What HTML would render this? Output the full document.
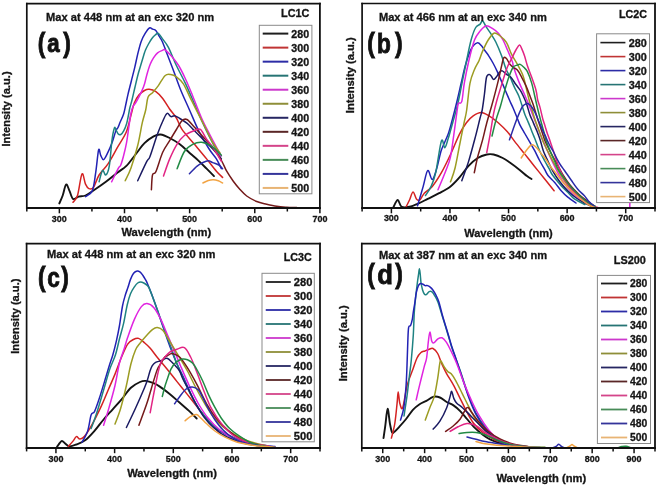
<!DOCTYPE html>
<html><head><meta charset="utf-8"><title>PL spectra</title>
<style>
html,body{margin:0;padding:0;background:#fff;width:660px;height:488px;overflow:hidden}
svg{display:block;will-change:transform}
text{font-family:'Liberation Sans',sans-serif;font-weight:bold;fill:#151515;stroke:#151515;stroke-width:0.3px}
text.big{stroke-width:0.9px;fill:#111;stroke:#111}
</style></head><body>
<svg width="660" height="488" viewBox="0 0 660 488">
<rect width="660" height="488" fill="#fff"/>
<g fill="none" stroke-width="1.5" stroke-linejoin="round" stroke-linecap="round"><path d="M59.3,203.4 C59.87,202.08 61.57,198.65 62.7,195.5 C63.83,192.35 64.97,185.27 66.1,184.5 C67.23,183.73 68.35,188.5 69.5,190.9 C70.65,193.3 71.48,197.95 73,198.9 C74.52,199.85 76.52,197.17 78.6,196.6 C80.68,196.03 82.85,196.63 85.5,195.5 C88.15,194.37 91.1,192.08 94.5,189.8 C97.9,187.52 102.1,184.65 105.9,181.8 C109.7,178.95 113.88,175.35 117.3,172.7 C120.72,170.05 123.37,168.93 126.4,165.9 C129.43,162.87 132.48,158.28 135.5,154.5 C138.52,150.72 141.48,146.22 144.5,143.2 C147.52,140.18 150.93,137.85 153.6,136.4 C156.27,134.95 157.82,134.23 160.5,134.5 C163.18,134.77 166.53,136.4 169.7,138 C172.87,139.6 176.22,141.65 179.5,144.1 C182.78,146.55 186.12,149.82 189.4,152.7 C192.68,155.58 196.33,158.73 199.2,161.4 C202.07,164.07 204.13,166.25 206.6,168.7 C209.07,171.15 212.77,174.87 214,176.1" stroke="#141414" stroke-width="1.9"/><path d="M73,202.3 C73.75,201.17 76,200.23 77.5,195.5 C79,190.77 80.67,175.8 82,173.9 C83.33,172 84.35,181.65 85.5,184.1 C86.65,186.55 87.58,188.03 88.9,188.6 C90.22,189.17 91.7,189.77 93.4,187.5 C95.1,185.23 96.63,178.98 99.1,175 C101.57,171.02 105.17,168.15 108.2,163.6 C111.23,159.05 114.27,153 117.3,147.7 C120.33,142.4 124.12,137.25 126.4,131.8 C128.68,126.35 129.68,119.8 131,115 C132.32,110.2 132.98,106.33 134.3,103 C135.62,99.67 137.2,97.08 138.9,95 C140.6,92.92 142.8,91.45 144.5,90.5 C146.2,89.55 147.2,89.12 149.1,89.3 C151,89.48 153.63,90.07 155.9,91.6 C158.17,93.13 160.42,95.6 162.7,98.5 C164.98,101.4 167.32,105.75 169.6,109 C171.88,112.25 174.33,114.6 176.4,118 C178.47,121.4 179.02,125.05 182,129.4 C184.98,133.75 190.2,139.18 194.3,144.1 C198.4,149.02 202.92,154.38 206.6,158.9 C210.28,163.42 213.73,168.12 216.4,171.2 C219.07,174.28 221.57,176.37 222.6,177.4" stroke="#d42222"/><path d="M85.5,196.6 C86.63,195.65 90.6,194.88 92.3,190.9 C94,186.92 94.65,179.52 95.7,172.7 C96.75,165.88 97.77,152.9 98.6,150 C99.43,147.1 99.87,153.7 100.7,155.3 C101.53,156.9 102.4,160.08 103.6,159.6 C104.8,159.12 106.47,155.28 107.9,152.4 C109.33,149.52 110.88,145.88 112.2,142.3 C113.52,138.72 114.83,133.37 115.8,130.9 C116.77,128.43 117.28,128.93 118,127.5 C118.72,126.07 119.15,124.6 120.1,122.3 C121.05,120 122.77,116.58 123.7,113.7 C124.63,110.82 124.97,108.3 125.7,105 C126.43,101.7 127.15,97.95 128.1,93.9 C129.05,89.85 130.3,85.08 131.4,80.7 C132.5,76.32 133.6,72.23 134.7,67.6 C135.8,62.97 136.92,57.27 138,52.9 C139.08,48.53 139.98,44.68 141.2,41.4 C142.42,38.12 143.93,35.43 145.3,33.2 C146.67,30.97 148.17,28.68 149.4,28 C150.63,27.32 151.6,28.65 152.7,29.1 C153.8,29.55 154.9,29.47 156,30.7 C157.1,31.93 158.22,34.62 159.3,36.5 C160.38,38.38 161.17,39 162.5,42 C163.83,45 165.37,49.45 167.3,54.5 C169.23,59.55 171.83,66.3 174.1,72.3 C176.37,78.3 178.35,84.27 180.9,90.5 C183.45,96.73 186.35,102.82 189.4,109.7 C192.45,116.58 195.92,125.25 199.2,131.8 C202.48,138.35 206.23,144.48 209.1,149 C211.97,153.52 214.35,155.62 216.4,158.9 C218.45,162.18 220.57,167.07 221.4,168.7" stroke="#2222b4"/><path d="M99.1,181.8 C99.67,179.92 101.37,171.63 102.5,170.5 C103.63,169.37 104.77,175.77 105.9,175 C107.03,174.23 108.28,171.73 109.3,165.9 C110.32,160.07 111.15,146.32 112,140 C112.85,133.68 113.77,129.77 114.4,128 C115.03,126.23 115.2,128.45 115.8,129.4 C116.4,130.35 117.17,132.85 118,133.7 C118.83,134.55 119.85,134.97 120.8,134.5 C121.75,134.03 122.73,132.7 123.7,130.9 C124.67,129.1 125.8,126.35 126.6,123.7 C127.4,121.05 127.97,117.62 128.5,115 C129.03,112.38 129.22,110.5 129.8,108 C130.38,105.5 131.15,103.42 132,100 C132.85,96.58 133.92,91.67 134.9,87.5 C135.88,83.33 136.92,78.75 137.9,75 C138.88,71.25 139.82,68.33 140.8,65 C141.78,61.67 143.02,57.5 143.8,55 C144.58,52.5 144.72,51.83 145.5,50 C146.28,48.17 147.43,45.92 148.5,44 C149.57,42.08 150.78,40 151.9,38.5 C153.02,37 154.12,35.85 155.2,35 C156.28,34.15 157.18,32.75 158.4,33.4 C159.62,34.05 160.83,36.58 162.5,38.9 C164.17,41.22 166.08,42.87 168.4,47.3 C170.72,51.73 173.55,59.45 176.4,65.5 C179.25,71.55 182.48,77.18 185.5,83.6 C188.52,90.02 191.85,97.93 194.5,104 C197.15,110.07 198.98,114.67 201.4,120 C203.82,125.33 206.57,131.17 209,136 C211.43,140.83 214,145.67 216,149 C218,152.33 220.17,154.83 221,156" stroke="#1e8282"/><path d="M111.6,181.8 C112.73,179.53 116.87,171 118.4,168.2 C119.93,165.4 119.92,167.15 120.8,165 C121.68,162.85 122.73,159.08 123.7,155.3 C124.67,151.52 125.77,146.85 126.6,142.3 C127.43,137.75 127.98,132.77 128.7,128 C129.42,123.23 130.18,117.28 130.9,113.7 C131.62,110.12 132.23,108.28 133,106.5 C133.77,104.72 134.53,104.57 135.5,103 C136.47,101.43 137.72,99.17 138.8,97.1 C139.88,95.03 141.05,92.78 142,90.6 C142.95,88.42 143.67,86.73 144.5,84 C145.33,81.27 146.05,77.48 147,74.2 C147.95,70.92 149.12,67.03 150.2,64.3 C151.28,61.57 152.27,59.7 153.5,57.8 C154.73,55.9 156.1,54.13 157.6,52.9 C159.1,51.67 161.27,50.92 162.5,50.4 C163.73,49.88 163.45,48.8 165,49.8 C166.55,50.8 169.53,53.78 171.8,56.4 C174.07,59.02 176.32,61.73 178.6,65.5 C180.88,69.27 183.22,74.08 185.5,79 C187.78,83.92 189.65,88.55 192.3,95 C194.95,101.45 198.45,111.03 201.4,117.7 C204.35,124.37 207.23,129.62 210,135 C212.77,140.38 216.17,146.5 218,150 C219.83,153.5 220.5,155 221,156" stroke="#e024e0"/><path d="M125.2,180.7 C126.15,178.62 128.82,174.07 130.9,168.2 C132.98,162.33 135.8,153.08 137.7,145.5 C139.6,137.92 140.97,128.62 142.3,122.7 C143.63,116.78 144.75,114.23 145.7,110 C146.65,105.77 146.87,100.18 148,97.3 C149.13,94.42 150.8,94.6 152.5,92.7 C154.2,90.8 156.12,88.73 158.2,85.9 C160.28,83.07 162.92,77.6 165,75.7 C167.08,73.8 168.8,74.32 170.7,74.5 C172.6,74.68 174.32,75.28 176.4,76.8 C178.48,78.32 180.93,80.18 183.2,83.6 C185.47,87.02 187.73,92.75 190,97.3 C192.27,101.85 194.3,105.95 196.8,110.9 C199.3,115.85 202.3,121.65 205,127 C207.7,132.35 210.5,138.67 213,143 C215.5,147.33 218.83,151.33 220,153" stroke="#9c9c22"/><path d="M137.7,180.7 C139.22,177.48 144.75,165.45 146.8,161.4 C148.85,157.35 148.23,160.92 150,156.4 C151.77,151.88 155.15,140.45 157.4,134.3 C159.65,128.15 161.87,122.98 163.5,119.5 C165.13,116.02 165.97,113.88 167.2,113.4 C168.43,112.92 169.67,116.2 170.9,116.6 C172.13,117 173.17,115.52 174.6,115.8 C176.03,116.08 177.45,117.07 179.5,118.3 C181.55,119.53 184.63,121.35 186.9,123.2 C189.17,125.05 191.05,127.35 193.1,129.4 C195.15,131.45 196.95,133.25 199.2,135.5 C201.45,137.75 204.13,140.43 206.6,142.9 C209.07,145.37 211.53,147.63 214,150.3 C216.47,152.97 220.17,157.47 221.4,158.9" stroke="#1a1a62"/><path d="M151.4,189.8 C151.58,187.33 151.75,178.03 152.5,175 C153.25,171.97 154.2,175.38 155.9,171.6 C157.6,167.82 160.43,157.42 162.7,152.3 C164.97,147.18 167.22,144.7 169.5,140.9 C171.78,137.1 174.32,132.85 176.4,129.5 C178.48,126.15 180.25,122.47 182,120.8 C183.75,119.13 184.85,118.48 186.9,119.5 C188.95,120.52 191.43,123.82 194.3,126.9 C197.17,129.98 200.82,134.32 204.1,138 C207.38,141.68 211.07,145.17 214,149 C216.93,152.83 219.58,157.3 221.7,161 C223.82,164.7 224.77,167.83 226.7,171.2 C228.63,174.57 231.08,178.15 233.3,181.2 C235.52,184.25 237.77,187.03 240,189.5 C242.23,191.97 243.92,194 246.7,196 C249.48,198 253.37,200.13 256.7,201.5 C260.03,202.87 263.37,203.4 266.7,204.2 C270.03,205 273.37,205.8 276.7,206.3 C280.03,206.8 283.37,206.98 286.7,207.2 C290.03,207.42 295.03,207.53 296.7,207.6" stroke="#741a1a"/><path d="M163.5,176.1 C164.53,173.23 167.43,164.23 169.7,158.9 C171.97,153.57 174.65,148 177.1,144.1 C179.55,140.2 181.53,137.75 184.4,135.5 C187.27,133.25 191.63,131.62 194.3,130.6 C196.97,129.58 198.35,127.97 200.4,129.4 C202.45,130.83 204.33,135.93 206.6,139.2 C208.87,142.47 211.53,145.3 214,149 C216.47,152.7 220.17,159.33 221.4,161.4" stroke="#e22484"/><path d="M177.1,168.7 C178.32,165.83 181.73,155.6 184.4,151.5 C187.07,147.4 190.22,145.65 193.1,144.1 C195.98,142.55 198.83,141.98 201.7,142.2 C204.57,142.42 207.63,143.85 210.3,145.4 C212.97,146.95 215.85,149.87 217.7,151.5 C219.55,153.13 220.78,154.58 221.4,155.2" stroke="#228a44"/><path d="M189.4,173.7 C190.63,172.47 194.53,168.17 196.8,166.3 C199.07,164.43 201.08,163.42 203,162.5 C204.92,161.58 206.68,160.78 208.3,160.8 C209.92,160.82 210.93,161.9 212.7,162.6 C214.47,163.3 217.25,163.98 218.9,165 C220.55,166.02 221.98,168.08 222.6,168.7" stroke="#2a2aa8"/><path d="M202.9,183 C203.8,182.58 206.57,181.05 208.3,180.5 C210.03,179.95 211.63,179.65 213.3,179.7 C214.97,179.75 216.75,180.25 218.3,180.8 C219.85,181.35 221.88,182.63 222.6,183" stroke="#f2a444"/></g>
<rect x="259.3" y="25.3" width="52.6" height="168.5" fill="#fff" stroke="#8a8a8a" stroke-width="1"/><line x1="262.7" y1="33.6" x2="288.3" y2="33.6" stroke="#1e1e1e" stroke-width="2.0"/><text x="291.3" y="37.5" font-size="10.5" textLength="17.8" lengthAdjust="spacingAndGlyphs">280</text><line x1="262.7" y1="47.63" x2="288.3" y2="47.63" stroke="#c03434" stroke-width="2.0"/><text x="291.3" y="51.53" font-size="10.5" textLength="17.8" lengthAdjust="spacingAndGlyphs">300</text><line x1="262.7" y1="61.66" x2="288.3" y2="61.66" stroke="#2c2ca6" stroke-width="2.0"/><text x="291.3" y="65.56" font-size="10.5" textLength="17.8" lengthAdjust="spacingAndGlyphs">320</text><line x1="262.7" y1="75.69" x2="288.3" y2="75.69" stroke="#267474" stroke-width="2.0"/><text x="291.3" y="79.59" font-size="10.5" textLength="17.8" lengthAdjust="spacingAndGlyphs">340</text><line x1="262.7" y1="89.72" x2="288.3" y2="89.72" stroke="#cc38cc" stroke-width="2.0"/><text x="291.3" y="93.62" font-size="10.5" textLength="17.8" lengthAdjust="spacingAndGlyphs">360</text><line x1="262.7" y1="103.75" x2="288.3" y2="103.75" stroke="#8e8e38" stroke-width="2.0"/><text x="291.3" y="107.65" font-size="10.5" textLength="17.8" lengthAdjust="spacingAndGlyphs">380</text><line x1="262.7" y1="117.78" x2="288.3" y2="117.78" stroke="#262662" stroke-width="2.0"/><text x="291.3" y="121.68" font-size="10.5" textLength="17.8" lengthAdjust="spacingAndGlyphs">400</text><line x1="262.7" y1="131.81" x2="288.3" y2="131.81" stroke="#5a2626" stroke-width="2.0"/><text x="291.3" y="135.71" font-size="10.5" textLength="17.8" lengthAdjust="spacingAndGlyphs">420</text><line x1="262.7" y1="145.84" x2="288.3" y2="145.84" stroke="#d4448a" stroke-width="2.0"/><text x="291.3" y="149.74" font-size="10.5" textLength="17.8" lengthAdjust="spacingAndGlyphs">440</text><line x1="262.7" y1="159.87" x2="288.3" y2="159.87" stroke="#488c58" stroke-width="2.0"/><text x="291.3" y="163.77" font-size="10.5" textLength="17.8" lengthAdjust="spacingAndGlyphs">460</text><line x1="262.7" y1="173.9" x2="288.3" y2="173.9" stroke="#34349a" stroke-width="2.0"/><text x="291.3" y="177.8" font-size="10.5" textLength="17.8" lengthAdjust="spacingAndGlyphs">480</text><line x1="262.7" y1="187.93" x2="288.3" y2="187.93" stroke="#e8b474" stroke-width="2.0"/><text x="291.3" y="191.83" font-size="10.5" textLength="17.8" lengthAdjust="spacingAndGlyphs">500</text>
<line x1="26.8" y1="2.8" x2="26.8" y2="209.1" stroke="#111" stroke-width="1.7"/><line x1="26" y1="3.6" x2="320.8" y2="3.6" stroke="#111" stroke-width="1.6"/><line x1="319.9" y1="2.8" x2="319.9" y2="209.1" stroke="#111" stroke-width="1.8"/><line x1="26" y1="208.1" x2="320.8" y2="208.1" stroke="#111" stroke-width="2"/><line x1="26.8" y1="208.1" x2="26.8" y2="211.5" stroke="#111" stroke-width="1.5"/><line x1="59.37" y1="208.1" x2="59.37" y2="213.3" stroke="#111" stroke-width="1.5"/><text x="59.37" y="221.9" font-size="9.4" text-anchor="middle" textLength="15.0" lengthAdjust="spacingAndGlyphs">300</text><line x1="91.93" y1="208.1" x2="91.93" y2="211.5" stroke="#111" stroke-width="1.5"/><line x1="124.5" y1="208.1" x2="124.5" y2="213.3" stroke="#111" stroke-width="1.5"/><text x="124.5" y="221.9" font-size="9.4" text-anchor="middle" textLength="15.0" lengthAdjust="spacingAndGlyphs">400</text><line x1="157.07" y1="208.1" x2="157.07" y2="211.5" stroke="#111" stroke-width="1.5"/><line x1="189.63" y1="208.1" x2="189.63" y2="213.3" stroke="#111" stroke-width="1.5"/><text x="189.63" y="221.9" font-size="9.4" text-anchor="middle" textLength="15.0" lengthAdjust="spacingAndGlyphs">500</text><line x1="222.2" y1="208.1" x2="222.2" y2="211.5" stroke="#111" stroke-width="1.5"/><line x1="254.77" y1="208.1" x2="254.77" y2="213.3" stroke="#111" stroke-width="1.5"/><text x="254.77" y="221.9" font-size="9.4" text-anchor="middle" textLength="15.0" lengthAdjust="spacingAndGlyphs">600</text><line x1="287.33" y1="208.1" x2="287.33" y2="211.5" stroke="#111" stroke-width="1.5"/><line x1="319.9" y1="208.1" x2="319.9" y2="213.3" stroke="#111" stroke-width="1.5"/><text x="319.9" y="221.9" font-size="9.4" text-anchor="middle" textLength="15.0" lengthAdjust="spacingAndGlyphs">700</text>
<text x="46.1" y="20.7" font-size="11" textLength="168" lengthAdjust="spacingAndGlyphs">Max at 448 nm at an exc 320 nm</text><text transform="translate(37.86,52.18) scale(0.81,1)" font-size="28.11" class="big">(</text><text transform="translate(63.18,52.18) scale(0.81,1)" font-size="28.11" class="big">)</text><text transform="translate(47.16,52.3) scale(0.88,1)" font-size="25.28" class="big">a</text><text x="281" y="17.2" font-size="10.5" textLength="28.4" lengthAdjust="spacingAndGlyphs">LC1C</text><text x="121.4" y="236.3" font-size="11" textLength="89.8" lengthAdjust="spacingAndGlyphs">Wavelength (nm)</text><text transform="translate(9.7,109) rotate(-90)" x="0" y="0" font-size="10.8" text-anchor="middle" textLength="75.2" lengthAdjust="spacingAndGlyphs">Intensity (a.u.)</text>
<g fill="none" stroke-width="1.5" stroke-linejoin="round" stroke-linecap="round"><path d="M393.6,206.8 C394.28,205.67 396.37,200 397.7,200 C399.03,200 399.63,205.67 401.6,206.8 C403.57,207.93 406.67,207.37 409.5,206.8 C412.33,206.23 415.57,204.72 418.6,203.4 C421.63,202.08 424.28,200.6 427.7,198.9 C431.12,197.2 435.3,195.28 439.1,193.2 C442.9,191.12 447.1,189.05 450.5,186.4 C453.9,183.75 456.48,180.72 459.5,177.3 C462.52,173.88 465.57,169.12 468.6,165.9 C471.63,162.68 474.67,159.9 477.7,158 C480.73,156.1 484.15,155.08 486.8,154.5 C489.45,153.92 490.95,153.92 493.6,154.5 C496.25,155.08 500,156.67 502.7,158 C505.4,159.33 506.97,160.52 509.8,162.5 C512.63,164.48 516.83,167.63 519.7,169.9 C522.57,172.17 525.03,174.58 527,176.1 C528.97,177.62 530.75,178.52 531.5,179" stroke="#141414" stroke-width="1.9"/><path d="M406.1,206.8 C406.67,205.67 408.35,202.47 409.5,200 C410.65,197.53 411.85,192.18 413,192 C414.15,191.82 415.27,197.57 416.4,198.9 C417.53,200.23 418.48,200.95 419.8,200 C421.12,199.05 422.22,195.47 424.3,193.2 C426.38,190.93 429.45,189.82 432.3,186.4 C435.15,182.98 438.37,178.02 441.4,172.7 C444.43,167.38 447.48,160.93 450.5,154.5 C453.52,148.07 456.85,139.4 459.5,134.1 C462.15,128.8 464.12,125.73 466.4,122.7 C468.68,119.67 470.75,117.6 473.2,115.9 C475.65,114.2 478.45,112.5 481.1,112.5 C483.75,112.5 486.25,114.2 489.1,115.9 C491.95,117.6 495.15,120.05 498.2,122.7 C501.25,125.35 504.63,128.65 507.4,131.8 C510.17,134.95 511.93,137.92 514.8,141.6 C517.67,145.28 521.33,149.8 524.6,153.9 C527.87,158 531.12,162.1 534.4,166.2 C537.68,170.3 541.02,174.4 544.3,178.5 C547.58,182.6 552.47,188.75 554.1,190.8" stroke="#d42222"/><path d="M417.5,205.7 C418.45,202.48 421.5,192.27 423.2,186.4 C424.9,180.53 426.18,171.65 427.7,170.5 C429.22,169.35 430.78,179.88 432.3,179.5 C433.82,179.12 435.28,173.12 436.8,168.2 C438.32,163.28 439.5,155.68 441.4,150 C443.3,144.32 446.32,139.4 448.2,134.1 C450.08,128.8 451.18,123.88 452.7,118.2 C454.22,112.52 455.88,105.87 457.3,100 C458.72,94.13 459.83,88.83 461.2,83 C462.57,77.17 463.85,70.65 465.5,65 C467.15,59.35 469.15,52.78 471.1,49.1 C473.05,45.42 475.47,43.47 477.2,42.9 C478.93,42.33 480.3,44.52 481.5,45.7 C482.7,46.88 483.2,48.32 484.4,50 C485.6,51.68 487.27,53.63 488.7,55.8 C490.13,57.97 491.57,60.37 493,63 C494.43,65.63 495.87,68.5 497.3,71.6 C498.73,74.7 500.17,78.25 501.6,81.6 C503.03,84.95 504.47,88.35 505.9,91.7 C507.33,95.05 509,98.98 510.2,101.7 C511.4,104.42 511.88,105.17 513.1,108 C514.32,110.83 516.37,115.9 517.5,118.7 C518.63,121.5 518.68,122.33 519.9,124.8 C521.12,127.27 523.15,130.62 524.8,133.5 C526.45,136.38 528.15,139.23 529.8,142.1 C531.45,144.97 533.07,147.63 534.7,150.7 C536.33,153.77 537.97,157.43 539.6,160.5 C541.23,163.57 543.1,166.6 544.5,169.1 C545.9,171.6 546.3,173.27 548,175.5 C549.7,177.73 552.5,179.97 554.7,182.5 C556.9,185.03 559.02,188.25 561.2,190.7 C563.38,193.15 565.33,195.15 567.8,197.2 C570.27,199.25 574.63,202.03 576,203" stroke="#2222b4"/><path d="M425.5,195.5 C426.43,193.98 429.4,190.2 431.1,186.4 C432.8,182.6 433.98,180.28 435.7,172.7 C437.42,165.12 439.88,145.07 441.4,140.9 C442.92,136.73 443.67,148.08 444.8,147.7 C445.93,147.32 446.88,142.77 448.2,138.6 C449.52,134.43 451.15,128.3 452.7,122.7 C454.25,117.1 455.95,111.58 457.5,105 C459.05,98.42 460.48,90.62 462,83.2 C463.52,75.78 465.08,67.7 466.6,60.5 C468.12,53.3 469.58,45.5 471.1,40 C472.62,34.5 474.18,30.15 475.7,27.5 C477.22,24.85 479.07,25.23 480.2,24.1 C481.33,22.97 481.55,20.32 482.5,20.7 C483.45,21.08 484.57,24.32 485.9,26.4 C487.23,28.48 488.85,30.6 490.5,33.2 C492.15,35.8 493.95,38.23 495.8,42 C497.65,45.77 499.92,51.35 501.6,55.8 C503.28,60.25 504.47,65.12 505.9,68.7 C507.33,72.28 508.77,74.18 510.2,77.3 C511.63,80.42 513.07,84.28 514.5,87.4 C515.93,90.52 517.6,93.13 518.8,96 C520,98.87 520.67,101.47 521.7,104.6 C522.73,107.73 524.03,112.15 525,114.8 C525.97,117.45 526.68,118.6 527.5,120.5 C528.32,122.4 529.08,124.15 529.9,126.2 C530.72,128.25 531.58,130.75 532.4,132.8 C533.22,134.85 533.6,135.52 534.8,138.5 C536,141.48 537.98,147.03 539.6,150.7 C541.22,154.37 542.87,157.43 544.5,160.5 C546.13,163.57 548.07,166.68 549.4,169.1 C550.73,171.52 550.53,172.23 552.5,175 C554.47,177.77 558.65,182.82 561.2,185.7 C563.75,188.58 565.62,190.1 567.8,192.3 C569.98,194.5 571.43,196.87 574.3,198.9 C577.17,200.93 583.22,203.57 585,204.5" stroke="#1e8282"/><path d="M438,189.8 C439.32,186.58 443.82,176 445.9,170.5 C447.98,165 449.17,162.87 450.5,156.8 C451.83,150.73 452.77,142.05 453.9,134.1 C455.03,126.15 456.55,114.22 457.3,109.1 C458.05,103.98 457.65,104.68 458.4,103.4 C459.15,102.12 460.82,104.77 461.8,101.4 C462.78,98.03 463.12,90.02 464.3,83.2 C465.48,76.38 467.2,67.7 468.9,60.5 C470.6,53.3 472.62,44.93 474.5,40 C476.38,35.07 478.3,33.25 480.2,30.9 C482.1,28.55 483.82,26.28 485.9,25.9 C487.98,25.52 490.62,27.38 492.7,28.6 C494.78,29.82 496.68,31.3 498.4,33.2 C500.12,35.1 501.48,37.2 503,40 C504.52,42.8 505.92,46.33 507.5,50 C509.08,53.67 511.5,59.15 512.5,62 C513.5,64.85 512.45,63.83 513.5,67.1 C514.55,70.37 516.97,77.03 518.8,81.6 C520.63,86.17 522.83,90.67 524.5,94.5 C526.17,98.33 527.55,101.52 528.8,104.6 C530.05,107.68 530.88,110.1 532,113 C533.12,115.9 534.33,119 535.5,122 C536.67,125 537.75,127.83 539,131 C540.25,134.17 541.58,137.67 543,141 C544.42,144.33 545.92,147.5 547.5,151 C549.08,154.5 550.75,158.33 552.5,162 C554.25,165.67 556.08,169.5 558,173 C559.92,176.5 561.83,179.92 564,183 C566.17,186.08 568.5,188.92 571,191.5 C573.5,194.08 576.27,196.5 579,198.5 C581.73,200.5 584.9,202.08 587.4,203.5 C589.9,204.92 592.9,206.42 594,207" stroke="#e024e0"/><path d="M450.5,181.8 C451.25,179.53 453.5,174.25 455,168.2 C456.5,162.15 457.98,153.08 459.5,145.5 C461.02,137.92 462.92,128.53 464.1,122.7 C465.28,116.87 465.62,117.08 466.6,110.5 C467.58,103.92 468.68,90.03 470,83.2 C471.32,76.37 472.98,73.28 474.5,69.5 C476.02,65.72 477.77,63.52 479.1,60.5 C480.43,57.48 480.98,54.82 482.5,51.4 C484.02,47.98 486.3,43.03 488.2,40 C490.1,36.97 492.02,33.95 493.9,33.2 C495.78,32.45 497.42,33.98 499.5,35.5 C501.58,37.02 504.38,39.15 506.4,42.3 C508.42,45.45 509.77,50.72 511.6,54.4 C513.43,58.08 515.48,60.82 517.4,64.4 C519.32,67.98 521.58,71.8 523.1,75.9 C524.62,80 525.5,84.98 526.5,89 C527.5,93.02 528.25,96.8 529.1,100 C529.95,103.2 530.78,105.47 531.6,108.2 C532.42,110.93 533.18,113.8 534,116.4 C534.82,119 535.68,121.48 536.5,123.8 C537.32,126.12 538.08,128.12 538.9,130.3 C539.72,132.48 540.55,134.7 541.4,136.9 C542.25,139.1 542.67,140.58 544,143.5 C545.33,146.42 547.57,150.82 549.4,154.4 C551.23,157.98 552.9,161.23 555,165 C557.1,168.77 559.5,173.17 562,177 C564.5,180.83 567.17,184.75 570,188 C572.83,191.25 576,194.08 579,196.5 C582,198.92 585.4,200.83 588,202.5 C590.6,204.17 593.5,205.83 594.6,206.5" stroke="#9c9c22"/><path d="M461.8,180.7 C462.93,177.48 466.32,168.78 468.6,161.4 C470.88,154.02 473.6,143.6 475.5,136.4 C477.4,129.2 478.88,122.6 480,118.2 C481.12,113.8 481.47,113.95 482.2,110 C482.93,106.05 483.68,99.95 484.4,94.5 C485.12,89.05 485.67,80.65 486.5,77.3 C487.33,73.95 488.57,74.52 489.4,74.4 C490.23,74.28 490.78,75.75 491.5,76.6 C492.22,77.45 492.85,79.5 493.7,79.5 C494.55,79.5 495.65,77.8 496.6,76.6 C497.55,75.4 498.45,73.25 499.4,72.3 C500.35,71.35 501.1,70.55 502.3,70.9 C503.5,71.25 505.17,73.33 506.6,74.4 C508.03,75.47 509.35,75.62 510.9,77.3 C512.45,78.98 514.35,82.35 515.9,84.5 C517.45,86.65 518.93,88.2 520.2,90.2 C521.47,92.2 522.43,94.2 523.5,96.5 C524.57,98.8 525.53,100.95 526.6,104 C527.67,107.05 528.93,112.05 529.9,114.8 C530.87,117.55 531.58,118.6 532.4,120.5 C533.22,122.4 533.98,124.28 534.8,126.2 C535.62,128.12 536.4,129.7 537.3,132 C538.2,134.3 539.2,136.88 540.2,140 C541.2,143.12 541.97,147.08 543.3,150.7 C544.63,154.32 546.57,158.22 548.2,161.7 C549.83,165.18 551.13,168.22 553.1,171.6 C555.07,174.98 557.52,178.77 560,182 C562.48,185.23 565.17,188.25 568,191 C570.83,193.75 573.87,196.33 577,198.5 C580.13,200.67 583.97,202.5 586.8,204 C589.63,205.5 592.8,206.92 594,207.5" stroke="#1a1a62"/><path d="M474.3,172.7 C474.87,170.05 476.37,162.1 477.7,156.8 C479.03,151.5 480.78,146.58 482.3,140.9 C483.82,135.22 485.28,128.38 486.8,122.7 C488.32,117.02 490.02,111.73 491.4,106.8 C492.78,101.87 493.88,97.77 495.1,93.1 C496.32,88.43 497.62,83.35 498.7,78.8 C499.78,74.25 500.77,69.28 501.6,65.8 C502.43,62.32 502.87,59.08 503.7,57.9 C504.53,56.72 505.63,57.73 506.6,58.7 C507.57,59.67 508.42,62.27 509.5,63.7 C510.58,65.13 511.78,66.23 513.1,67.3 C514.42,68.37 515.97,68.43 517.4,70.1 C518.83,71.77 520.27,74.67 521.7,77.3 C523.13,79.93 524.62,82.78 526,85.9 C527.38,89.02 528.83,92.98 530,96 C531.17,99.02 532.08,101.33 533,104 C533.92,106.67 534.67,109.33 535.5,112 C536.33,114.67 537.17,117.42 538,120 C538.83,122.58 539.67,125 540.5,127.5 C541.33,130 542.17,132.58 543,135 C543.83,137.42 544.17,139 545.5,142 C546.83,145 549.08,149.33 551,153 C552.92,156.67 555,160.33 557,164 C559,167.67 560.83,171.5 563,175 C565.17,178.5 567.33,181.75 570,185 C572.67,188.25 576,191.75 579,194.5 C582,197.25 585.3,199.5 588,201.5 C590.7,203.5 594,205.67 595.2,206.5" stroke="#741a1a"/><path d="M486.8,152.3 C487.37,149.27 489.07,140.55 490.2,134.1 C491.33,127.65 492.47,119.28 493.6,113.6 C494.73,107.92 495.93,103.93 497,100 C498.07,96.07 499,93.3 500,90 C501,86.7 501.78,83.98 503,80.2 C504.22,76.42 505.87,70.88 507.3,67.3 C508.73,63.72 510.17,61.58 511.6,58.7 C513.03,55.82 514.58,52.28 515.9,50 C517.22,47.72 518.53,45.23 519.5,45 C520.47,44.77 520.87,46.8 521.7,48.6 C522.53,50.4 523.55,52.93 524.5,55.8 C525.45,58.67 526.2,62.22 527.4,65.8 C528.6,69.38 530.27,73.23 531.7,77.3 C533.13,81.37 535,86.42 536,90.2 C537,93.98 537.07,97.27 537.7,100 C538.33,102.73 539.18,104.42 539.8,106.6 C540.42,108.78 540.87,110.92 541.4,113.1 C541.93,115.28 542.38,117.52 543,119.7 C543.62,121.88 544.42,124.02 545.1,126.2 C545.78,128.38 546.42,130.75 547.1,132.8 C547.78,134.85 548.48,136.47 549.2,138.5 C549.92,140.53 550.68,142.87 551.4,145 C552.12,147.13 552.68,148.8 553.5,151.3 C554.32,153.8 555.22,156.88 556.3,160 C557.38,163.12 558.55,166.67 560,170 C561.45,173.33 563.17,176.92 565,180 C566.83,183.08 568.83,185.92 571,188.5 C573.17,191.08 575.47,193.33 578,195.5 C580.53,197.67 583.83,199.83 586.2,201.5 C588.57,203.17 590.1,204.45 592.2,205.5 C594.3,206.55 597.7,207.42 598.8,207.8" stroke="#e22484"/><path d="M492,136 C492.67,133.33 494.58,125 496,120 C497.42,115 499.1,110.72 500.5,106 C501.9,101.28 503.02,96.48 504.4,91.7 C505.78,86.92 507.35,81.37 508.8,77.3 C510.25,73.23 511.67,69.33 513.1,67.3 C514.53,65.27 516.22,65.58 517.4,65.1 C518.58,64.62 519.13,64.03 520.2,64.4 C521.27,64.77 522.6,66.1 523.8,67.3 C525,68.5 526.08,68.97 527.4,71.6 C528.72,74.23 530.52,79.2 531.7,83.1 C532.88,87 533.65,91.35 534.5,95 C535.35,98.65 536.05,101.83 536.8,105 C537.55,108.17 538.23,111 539,114 C539.77,117 540.58,120 541.4,123 C542.22,126 543.15,129.17 543.9,132 C544.65,134.83 544.98,137.1 545.9,140 C546.82,142.9 547.98,145.98 549.4,149.4 C550.82,152.82 552.97,157.22 554.4,160.5 C555.83,163.78 556.4,166.18 558,169.1 C559.6,172.02 561.83,175.02 564,178 C566.17,180.98 568.33,184 571,187 C573.67,190 577.17,193.42 580,196 C582.83,198.58 585.47,200.75 588,202.5 C590.53,204.25 594,205.83 595.2,206.5" stroke="#228a44"/><path d="M509.5,139.8 C510.38,137.23 513.1,129.02 514.8,124.4 C516.5,119.78 518.42,115.08 519.7,112.1 C520.98,109.12 521.53,107.83 522.5,106.5 C523.47,105.17 524.58,104.6 525.5,104.1 C526.42,103.6 527.08,103.18 528,103.5 C528.92,103.82 530.08,104.97 531,106 C531.92,107.03 532.72,108.38 533.5,109.7 C534.28,111.02 534.93,112.23 535.7,113.9 C536.47,115.57 537.28,117.78 538.1,119.7 C538.92,121.62 539.78,123.5 540.6,125.4 C541.42,127.3 542.18,129.32 543,131.1 C543.82,132.88 544.82,134.62 545.5,136.1 C546.18,137.58 546.35,138.35 547.1,140 C547.85,141.65 549,144.17 550,146 C551,147.83 551.97,148.92 553.1,151 C554.23,153.08 555.57,156.17 556.8,158.5 C558.03,160.83 559.22,163 560.5,165 C561.78,167 562.73,168 564.5,170.5 C566.27,173 568.92,176.92 571.1,180 C573.28,183.08 575.42,186.4 577.6,189 C579.78,191.6 582.23,193.42 584.2,195.6 C586.17,197.78 587.75,200.33 589.44,202.1 C591.13,203.87 593.54,205.52 594.36,206.2" stroke="#2a2aa8"/><path d="M521.2,158 C522.02,156.78 524.47,152.85 526.1,150.7 C527.73,148.55 529.77,146.03 531,145.1 C532.23,144.17 532.48,144.58 533.5,145.1 C534.52,145.62 535.88,146.87 537.1,148.2 C538.32,149.53 539.35,151.25 540.8,153.1 C542.25,154.95 544.15,157.03 545.8,159.3 C547.45,161.57 549.07,164.45 550.7,166.7 C552.33,168.95 553.3,169.9 555.6,172.8 C557.9,175.7 561.65,180.85 564.5,184.1 C567.35,187.35 569.7,189.57 572.7,192.3 C575.7,195.03 579.71,198.32 582.5,200.5 C585.29,202.68 587.32,204.23 589.44,205.4 C591.56,206.57 594.24,207.15 595.2,207.5" stroke="#f2a444"/><path d="M629.8,203.3 L629.8,207.4" stroke="#e024e0"/></g>
<rect x="596.6" y="33.8" width="52.9" height="168.8" fill="#fff" stroke="#8a8a8a" stroke-width="1"/><line x1="600.4" y1="42.6" x2="625.4" y2="42.6" stroke="#1e1e1e" stroke-width="1.6"/><text x="628.8" y="46.5" font-size="10.5" textLength="18.1" lengthAdjust="spacingAndGlyphs">280</text><line x1="600.4" y1="56.6" x2="625.4" y2="56.6" stroke="#c03434" stroke-width="1.6"/><text x="628.8" y="60.5" font-size="10.5" textLength="18.1" lengthAdjust="spacingAndGlyphs">300</text><line x1="600.4" y1="70.6" x2="625.4" y2="70.6" stroke="#2c2ca6" stroke-width="1.6"/><text x="628.8" y="74.5" font-size="10.5" textLength="18.1" lengthAdjust="spacingAndGlyphs">320</text><line x1="600.4" y1="84.6" x2="625.4" y2="84.6" stroke="#267474" stroke-width="1.6"/><text x="628.8" y="88.5" font-size="10.5" textLength="18.1" lengthAdjust="spacingAndGlyphs">340</text><line x1="600.4" y1="98.6" x2="625.4" y2="98.6" stroke="#cc38cc" stroke-width="1.6"/><text x="628.8" y="102.5" font-size="10.5" textLength="18.1" lengthAdjust="spacingAndGlyphs">360</text><line x1="600.4" y1="112.6" x2="625.4" y2="112.6" stroke="#8e8e38" stroke-width="1.6"/><text x="628.8" y="116.5" font-size="10.5" textLength="18.1" lengthAdjust="spacingAndGlyphs">380</text><line x1="600.4" y1="126.6" x2="625.4" y2="126.6" stroke="#262662" stroke-width="1.6"/><text x="628.8" y="130.5" font-size="10.5" textLength="18.1" lengthAdjust="spacingAndGlyphs">400</text><line x1="600.4" y1="140.6" x2="625.4" y2="140.6" stroke="#5a2626" stroke-width="1.6"/><text x="628.8" y="144.5" font-size="10.5" textLength="18.1" lengthAdjust="spacingAndGlyphs">420</text><line x1="600.4" y1="154.6" x2="625.4" y2="154.6" stroke="#d4448a" stroke-width="1.6"/><text x="628.8" y="158.5" font-size="10.5" textLength="18.1" lengthAdjust="spacingAndGlyphs">440</text><line x1="600.4" y1="168.6" x2="625.4" y2="168.6" stroke="#488c58" stroke-width="1.6"/><text x="628.8" y="172.5" font-size="10.5" textLength="18.1" lengthAdjust="spacingAndGlyphs">460</text><line x1="600.4" y1="182.6" x2="625.4" y2="182.6" stroke="#34349a" stroke-width="1.6"/><text x="628.8" y="186.5" font-size="10.5" textLength="18.1" lengthAdjust="spacingAndGlyphs">480</text><line x1="600.4" y1="196.6" x2="625.4" y2="196.6" stroke="#e8b474" stroke-width="1.6"/><text x="628.8" y="200.5" font-size="10.5" textLength="18.1" lengthAdjust="spacingAndGlyphs">500</text>
<line x1="362.1" y1="2.7" x2="362.1" y2="209.1" stroke="#111" stroke-width="1.7"/><line x1="361.3" y1="3.5" x2="655.9" y2="3.5" stroke="#111" stroke-width="1.6"/><line x1="655" y1="2.7" x2="655" y2="209.1" stroke="#111" stroke-width="1.8"/><line x1="361.3" y1="208.1" x2="655.9" y2="208.1" stroke="#111" stroke-width="2"/><line x1="362.1" y1="208.1" x2="362.1" y2="211.5" stroke="#111" stroke-width="1.5"/><line x1="391.39" y1="208.1" x2="391.39" y2="213.3" stroke="#111" stroke-width="1.5"/><text x="391.39" y="221.4" font-size="9.4" text-anchor="middle" textLength="15.0" lengthAdjust="spacingAndGlyphs">300</text><line x1="420.68" y1="208.1" x2="420.68" y2="211.5" stroke="#111" stroke-width="1.5"/><line x1="449.97" y1="208.1" x2="449.97" y2="213.3" stroke="#111" stroke-width="1.5"/><text x="449.97" y="221.4" font-size="9.4" text-anchor="middle" textLength="15.0" lengthAdjust="spacingAndGlyphs">400</text><line x1="479.26" y1="208.1" x2="479.26" y2="211.5" stroke="#111" stroke-width="1.5"/><line x1="508.55" y1="208.1" x2="508.55" y2="213.3" stroke="#111" stroke-width="1.5"/><text x="508.55" y="221.4" font-size="9.4" text-anchor="middle" textLength="15.0" lengthAdjust="spacingAndGlyphs">500</text><line x1="537.84" y1="208.1" x2="537.84" y2="211.5" stroke="#111" stroke-width="1.5"/><line x1="567.13" y1="208.1" x2="567.13" y2="213.3" stroke="#111" stroke-width="1.5"/><text x="567.13" y="221.4" font-size="9.4" text-anchor="middle" textLength="15.0" lengthAdjust="spacingAndGlyphs">600</text><line x1="596.42" y1="208.1" x2="596.42" y2="211.5" stroke="#111" stroke-width="1.5"/><line x1="625.71" y1="208.1" x2="625.71" y2="213.3" stroke="#111" stroke-width="1.5"/><text x="625.71" y="221.4" font-size="9.4" text-anchor="middle" textLength="15.0" lengthAdjust="spacingAndGlyphs">700</text><line x1="655" y1="208.1" x2="655" y2="211.5" stroke="#111" stroke-width="1.5"/>
<text x="378.9" y="21.4" font-size="11" textLength="167.9" lengthAdjust="spacingAndGlyphs">Max at 466 nm at an exc 340 nm</text><text transform="translate(367.36,52.23) scale(0.82,1)" font-size="27.9" class="big">(</text><text transform="translate(394.98,52.23) scale(0.82,1)" font-size="27.9" class="big">)</text><text transform="translate(377.1,52.7) scale(0.82,1)" font-size="27.72" class="big">b</text><text x="619" y="17.5" font-size="10.5" textLength="28" lengthAdjust="spacingAndGlyphs">LC2C</text><text x="464.2" y="237.1" font-size="11" textLength="88.6" lengthAdjust="spacingAndGlyphs">Wavelength (nm)</text><text transform="translate(354.2,75.25) rotate(-90)" x="0" y="0" font-size="10.8" text-anchor="middle" textLength="75.9" lengthAdjust="spacingAndGlyphs">Intensity (a.u.)</text>
<g fill="none" stroke-width="1.5" stroke-linejoin="round" stroke-linecap="round"><path d="M57,446.8 C57.77,445.85 60.27,441.67 61.6,441.1 C62.93,440.53 63.68,442.52 65,443.4 C66.32,444.28 67.6,446.22 69.5,446.4 C71.4,446.58 73.73,445.57 76.4,444.5 C79.07,443.43 82.48,442.27 85.5,440 C88.52,437.73 91.48,434.32 94.5,430.9 C97.52,427.48 100.57,423.1 103.6,419.5 C106.63,415.9 109.67,412.7 112.7,409.3 C115.73,405.9 118.77,402.7 121.8,399.1 C124.83,395.5 127.87,390.55 130.9,387.7 C133.93,384.85 137.53,383.13 140,382 C142.47,380.87 143.43,380.7 145.7,380.9 C147.97,381.1 151.25,382.25 153.6,383.2 C155.95,384.15 157.12,384.82 159.8,386.6 C162.48,388.38 166.42,391.25 169.7,393.9 C172.98,396.55 176.23,399.63 179.5,402.5 C182.77,405.37 186.43,408.43 189.3,411.1 C192.17,413.77 195.47,417.27 196.7,418.5" stroke="#141414" stroke-width="1.9"/><path d="M68.4,446.4 C69.17,445.52 71.67,442.73 73,441.1 C74.33,439.47 75.27,436.97 76.4,436.6 C77.53,436.23 78.48,438.9 79.8,438.9 C81.12,438.9 82.22,439.07 84.3,436.6 C86.38,434.13 89.45,429.22 92.3,424.1 C95.15,418.98 98.75,411.58 101.4,405.9 C104.05,400.22 105.93,395.3 108.2,390 C110.47,384.7 112.73,379.68 115,374.1 C117.27,368.52 119.68,361.5 121.8,356.5 C123.92,351.5 125.77,346.93 127.7,344.1 C129.63,341.27 131.58,340.45 133.4,339.5 C135.22,338.55 136.7,337.82 138.6,338.4 C140.5,338.98 142.9,341.4 144.8,343 C146.7,344.6 147.9,345.58 150,348 C152.1,350.42 154.53,353.95 157.4,357.5 C160.27,361.05 163.93,365.28 167.2,369.3 C170.47,373.32 173.72,377.5 177,381.6 C180.28,385.7 183.62,389.8 186.9,393.9 C190.18,398 193.42,402.1 196.7,406.2 C199.98,410.3 203.32,414.6 206.6,418.5 C209.88,422.4 214.15,427.13 216.4,429.6 C218.65,432.07 219.48,432.68 220.1,433.3" stroke="#d42222"/><path d="M82,442.3 C82.95,440.4 86.18,435.45 87.7,430.9 C89.22,426.35 89.97,418.22 91.1,415 C92.23,411.78 93.17,414.25 94.5,411.6 C95.83,408.95 97.2,404.87 99.1,399.1 C101,393.33 104.17,382.68 105.9,377 C107.63,371.32 108.35,368.67 109.5,365 C110.65,361.33 111.65,359.02 112.8,355 C113.95,350.98 115.28,345.82 116.4,340.9 C117.52,335.98 118.48,331.32 119.5,325.5 C120.52,319.68 121.52,311.12 122.5,306 C123.48,300.88 124.5,297.87 125.4,294.8 C126.3,291.73 127.05,290.17 127.9,287.6 C128.75,285.03 129.55,281.78 130.5,279.4 C131.45,277.02 132.48,274.7 133.6,273.3 C134.72,271.9 136.1,271.18 137.2,271 C138.3,270.82 139.27,271.48 140.2,272.2 C141.13,272.92 141.95,274.1 142.8,275.3 C143.65,276.5 144.53,278.03 145.3,279.4 C146.07,280.77 146.35,281.05 147.4,283.5 C148.45,285.95 149.95,289.68 151.6,294.1 C153.25,298.52 155.18,303.93 157.3,310 C159.42,316.07 162.03,324 164.3,330.5 C166.57,337 168.78,343.42 170.9,349 C173.02,354.58 174.75,358.97 177,364 C179.25,369.03 181.52,372.98 184.4,379.2 C187.28,385.42 191.02,395.15 194.3,401.3 C197.58,407.45 200.42,411.58 204.1,416.1 C207.78,420.62 212.3,425.13 216.4,428.4 C220.5,431.67 224.43,433.6 228.7,435.7 C232.97,437.8 237.12,439.53 242,441 C246.88,442.47 252.5,443.58 258,444.5 C263.5,445.42 272.17,446.17 275,446.5" stroke="#2222b4"/><path d="M91.1,428.6 C92.05,425.95 94.72,419.13 96.8,412.7 C98.88,406.27 101.43,397.28 103.6,390 C105.77,382.72 107.83,374.83 109.8,369 C111.77,363.17 113.78,360.03 115.4,355 C117.02,349.97 118.13,344.07 119.5,338.8 C120.87,333.53 122.32,329.03 123.6,323.4 C124.88,317.77 126.05,309.93 127.2,305 C128.35,300.07 129.27,296.87 130.5,293.8 C131.73,290.73 133.4,288.4 134.6,286.6 C135.8,284.8 136.68,283.77 137.7,283 C138.72,282.23 139.68,282 140.7,282 C141.72,282 142.77,282.48 143.8,283 C144.83,283.52 146.05,284.33 146.9,285.1 C147.75,285.87 147.88,285.47 148.9,287.6 C149.92,289.73 151.63,294.32 153,297.9 C154.37,301.48 155.43,304.43 157.1,309.1 C158.77,313.77 160.88,320.07 163,325.9 C165.12,331.73 167.72,338.42 169.8,344.1 C171.88,349.78 173.3,354.35 175.5,360 C177.7,365.65 180.25,371.83 183,378 C185.75,384.17 188.83,391.17 192,397 C195.17,402.83 198.33,408.17 202,413 C205.67,417.83 209.67,422.33 214,426 C218.33,429.67 222.83,432.33 228,435 C233.17,437.67 238.83,440.17 245,442 C251.17,443.83 261.67,445.33 265,446" stroke="#1e8282"/><path d="M103.6,425.2 C104.37,422.75 106.3,417.12 108.2,410.5 C110.1,403.88 113.12,393.47 115,385.5 C116.88,377.53 117.98,368.77 119.5,362.7 C121.02,356.63 122.73,353.33 124.1,349.1 C125.47,344.87 125.97,342.3 127.7,337.3 C129.43,332.3 132.22,324.22 134.5,319.1 C136.78,313.98 139.32,309.18 141.4,306.6 C143.48,304.02 144.92,303.42 147,303.6 C149.08,303.78 151.62,305.12 153.9,307.7 C156.18,310.28 158.43,314.55 160.7,319.1 C162.97,323.65 165.23,329.7 167.5,335 C169.77,340.3 172.05,345.57 174.3,350.9 C176.55,356.23 178.55,361.32 181,367 C183.45,372.68 186.17,379 189,385 C191.83,391 194.83,397.5 198,403 C201.17,408.5 204.33,413.5 208,418 C211.67,422.5 215.5,426.5 220,430 C224.5,433.5 229.67,436.67 235,439 C240.33,441.33 246.17,442.75 252,444 C257.83,445.25 267,446.08 270,446.5" stroke="#e024e0"/><path d="M115,424.1 C115.95,421.45 118.8,414.63 120.7,408.2 C122.6,401.77 124.7,392.87 126.4,385.5 C128.1,378.13 129.38,369.92 130.9,364 C132.42,358.08 133.95,353.5 135.5,350 C137.05,346.5 138.28,345.5 140.2,343 C142.12,340.5 144.92,337.28 147,335 C149.08,332.72 150.98,330.55 152.7,329.3 C154.42,328.05 155.58,327.3 157.3,327.5 C159.02,327.7 161.12,328.5 163,330.5 C164.88,332.5 166.52,336.1 168.6,339.5 C170.68,342.9 173.42,347.48 175.5,350.9 C177.58,354.32 179.02,356.48 181.1,360 C183.18,363.52 185.52,367.33 188,372 C190.48,376.67 193.17,382.67 196,388 C198.83,393.33 201.67,398.67 205,404 C208.33,409.33 211.83,415.33 216,420 C220.17,424.67 224.67,428.5 230,432 C235.33,435.5 241.67,438.67 248,441 C254.33,443.33 264.67,445.17 268,446" stroke="#9c9c22"/><path d="M126.4,427.5 C127.92,424.28 132.48,414.83 135.5,408.2 C138.52,401.57 142.52,392.4 144.5,387.7 C146.48,383 146.48,382.78 147.4,380 C148.32,377.22 149.18,373.4 150,371 C150.82,368.6 151.37,367.05 152.3,365.6 C153.23,364.15 154.1,363.12 155.6,362.3 C157.1,361.48 159.53,361.38 161.3,360.7 C163.07,360.02 164.83,358.35 166.2,358.2 C167.57,358.05 168.13,358.7 169.5,359.8 C170.87,360.9 172.77,363.02 174.4,364.8 C176.03,366.58 177.8,367.97 179.3,370.5 C180.8,373.03 181.73,376.58 183.4,380 C185.07,383.42 187.2,387 189.3,391 C191.4,395 193.55,399.67 196,404 C198.45,408.33 201,413 204,417 C207,421 210.17,424.67 214,428 C217.83,431.33 222.17,434.5 227,437 C231.83,439.5 237.5,441.5 243,443 C248.5,444.5 257.17,445.5 260,446" stroke="#1a1a62"/><path d="M138.9,425.2 C140.22,421.6 144.35,410.98 146.8,403.6 C149.25,396.22 151.83,386.62 153.6,380.9 C155.37,375.18 156.25,372.12 157.4,369.3 C158.55,366.48 159.27,366.05 160.5,364 C161.73,361.95 163.67,358.35 164.8,357 C165.93,355.65 166.08,356.5 167.3,355.9 C168.52,355.3 170.07,353.22 172.1,353.4 C174.13,353.58 177.03,354.75 179.5,357 C181.97,359.25 184.03,362.38 186.9,366.9 C189.77,371.42 193.42,377.95 196.7,384.1 C199.98,390.25 203.32,398.07 206.6,403.8 C209.88,409.53 212.72,414 216.4,418.5 C220.08,423 224.2,427.12 228.7,430.8 C233.2,434.48 237.85,438.15 243.4,440.6 C248.95,443.05 258.9,444.68 262,445.5" stroke="#741a1a"/><path d="M150.2,412.7 C150.77,409.67 152.27,401.32 153.6,394.5 C154.93,387.68 156.95,377.22 158.2,371.8 C159.45,366.38 160.15,364.27 161.1,362 C162.05,359.73 162.47,359.85 163.9,358.2 C165.33,356.55 167.52,353.6 169.7,352.1 C171.88,350.6 174.55,349.93 177,349.2 C179.45,348.47 182.13,346.4 184.4,347.7 C186.67,349 188.55,352.98 190.6,357 C192.65,361.02 194.45,366.05 196.7,371.8 C198.95,377.55 201.63,385.35 204.1,391.5 C206.57,397.65 208.63,403.38 211.5,408.7 C214.37,414.02 217.62,418.9 221.3,423.4 C224.98,427.9 228.82,432.43 233.6,435.7 C238.38,438.97 244.27,441.28 250,443 C255.73,444.72 265,445.5 268,446" stroke="#e22484"/><path d="M162.3,396.4 C162.75,394.67 164.22,388.73 165,386 C165.78,383.27 165.98,382.85 167,380 C168.02,377.15 169.6,371.85 171.1,368.9 C172.6,365.95 174.08,363.95 176,362.3 C177.92,360.65 180.68,359.42 182.6,359 C184.52,358.58 185.85,359.12 187.5,359.8 C189.15,360.48 190.85,361.32 192.5,363.1 C194.15,364.88 195.72,367.55 197.4,370.5 C199.08,373.45 200.72,376.7 202.6,380.8 C204.48,384.9 206.65,390.67 208.7,395.1 C210.75,399.53 212.85,403.63 214.9,407.4 C216.95,411.17 218.62,414.27 221,417.7 C223.38,421.13 226.12,424.92 229.2,428 C232.28,431.08 236.08,433.82 239.5,436.2 C242.92,438.58 246.28,440.77 249.7,442.3 C253.12,443.83 256.28,444.62 260,445.4 C263.72,446.18 270,446.73 272,447" stroke="#228a44"/><path d="M174.6,403.8 C175.5,402.53 178.07,398.67 180,396.2 C181.93,393.73 184.15,390.55 186.2,389 C188.25,387.45 190.25,386.73 192.3,386.9 C194.35,387.07 196.78,388.28 198.5,390 C200.22,391.72 200.9,393.95 202.6,397.2 C204.3,400.45 206.65,405.75 208.7,409.5 C210.75,413.25 212.5,416.28 214.9,419.7 C217.3,423.12 220.03,426.92 223.1,430 C226.17,433.08 229.55,435.98 233.3,438.2 C237.05,440.42 241.15,442 245.6,443.3 C250.05,444.6 257.6,445.55 260,446" stroke="#2a2aa8"/><path d="M185.1,420.8 C185.97,420.12 188.42,417.73 190.3,416.7 C192.18,415.67 194.7,414.43 196.4,414.6 C198.1,414.77 198.78,416.17 200.5,417.7 C202.22,419.23 204.3,421.58 206.7,423.8 C209.1,426.02 211.83,428.77 214.9,431 C217.97,433.23 221.35,435.32 225.1,437.2 C228.85,439.08 233.3,441.03 237.4,442.3 C241.5,443.57 245.6,444.13 249.7,444.8 C253.8,445.47 257.78,445.9 262,446.3 C266.22,446.7 272.83,447.05 275,447.2" stroke="#f2a444"/></g>
<rect x="262" y="273.3" width="52.3" height="168.5" fill="#fff" stroke="#8a8a8a" stroke-width="1"/><line x1="265.75" y1="282" x2="290.75" y2="282" stroke="#1e1e1e" stroke-width="1.8"/><text x="293.75" y="285.9" font-size="10.5" textLength="18.6" lengthAdjust="spacingAndGlyphs">280</text><line x1="265.75" y1="296" x2="290.75" y2="296" stroke="#c03434" stroke-width="1.8"/><text x="293.75" y="299.9" font-size="10.5" textLength="18.6" lengthAdjust="spacingAndGlyphs">300</text><line x1="265.75" y1="310" x2="290.75" y2="310" stroke="#2c2ca6" stroke-width="1.8"/><text x="293.75" y="313.9" font-size="10.5" textLength="18.6" lengthAdjust="spacingAndGlyphs">320</text><line x1="265.75" y1="324" x2="290.75" y2="324" stroke="#267474" stroke-width="1.8"/><text x="293.75" y="327.9" font-size="10.5" textLength="18.6" lengthAdjust="spacingAndGlyphs">340</text><line x1="265.75" y1="338" x2="290.75" y2="338" stroke="#cc38cc" stroke-width="1.8"/><text x="293.75" y="341.9" font-size="10.5" textLength="18.6" lengthAdjust="spacingAndGlyphs">360</text><line x1="265.75" y1="352" x2="290.75" y2="352" stroke="#8e8e38" stroke-width="1.8"/><text x="293.75" y="355.9" font-size="10.5" textLength="18.6" lengthAdjust="spacingAndGlyphs">380</text><line x1="265.75" y1="366" x2="290.75" y2="366" stroke="#262662" stroke-width="1.8"/><text x="293.75" y="369.9" font-size="10.5" textLength="18.6" lengthAdjust="spacingAndGlyphs">400</text><line x1="265.75" y1="380" x2="290.75" y2="380" stroke="#5a2626" stroke-width="1.8"/><text x="293.75" y="383.9" font-size="10.5" textLength="18.6" lengthAdjust="spacingAndGlyphs">420</text><line x1="265.75" y1="394" x2="290.75" y2="394" stroke="#d4448a" stroke-width="1.8"/><text x="293.75" y="397.9" font-size="10.5" textLength="18.6" lengthAdjust="spacingAndGlyphs">440</text><line x1="265.75" y1="408" x2="290.75" y2="408" stroke="#488c58" stroke-width="1.8"/><text x="293.75" y="411.9" font-size="10.5" textLength="18.6" lengthAdjust="spacingAndGlyphs">460</text><line x1="265.75" y1="422" x2="290.75" y2="422" stroke="#34349a" stroke-width="1.8"/><text x="293.75" y="425.9" font-size="10.5" textLength="18.6" lengthAdjust="spacingAndGlyphs">480</text><line x1="265.75" y1="436" x2="290.75" y2="436" stroke="#e8b474" stroke-width="1.8"/><text x="293.75" y="439.9" font-size="10.5" textLength="18.6" lengthAdjust="spacingAndGlyphs">500</text>
<line x1="26.6" y1="242.8" x2="26.6" y2="449" stroke="#111" stroke-width="1.7"/><line x1="25.8" y1="243.6" x2="320.9" y2="243.6" stroke="#111" stroke-width="1.6"/><line x1="320" y1="242.8" x2="320" y2="449" stroke="#111" stroke-width="1.8"/><line x1="25.8" y1="448" x2="320.9" y2="448" stroke="#111" stroke-width="2"/><line x1="26.6" y1="448" x2="26.6" y2="451.4" stroke="#111" stroke-width="1.5"/><line x1="55.94" y1="448" x2="55.94" y2="453.2" stroke="#111" stroke-width="1.5"/><text x="55.94" y="461.8" font-size="9.4" text-anchor="middle" textLength="15.0" lengthAdjust="spacingAndGlyphs">300</text><line x1="85.28" y1="448" x2="85.28" y2="451.4" stroke="#111" stroke-width="1.5"/><line x1="114.62" y1="448" x2="114.62" y2="453.2" stroke="#111" stroke-width="1.5"/><text x="114.62" y="461.8" font-size="9.4" text-anchor="middle" textLength="15.0" lengthAdjust="spacingAndGlyphs">400</text><line x1="143.96" y1="448" x2="143.96" y2="451.4" stroke="#111" stroke-width="1.5"/><line x1="173.3" y1="448" x2="173.3" y2="453.2" stroke="#111" stroke-width="1.5"/><text x="173.3" y="461.8" font-size="9.4" text-anchor="middle" textLength="15.0" lengthAdjust="spacingAndGlyphs">500</text><line x1="202.64" y1="448" x2="202.64" y2="451.4" stroke="#111" stroke-width="1.5"/><line x1="231.98" y1="448" x2="231.98" y2="453.2" stroke="#111" stroke-width="1.5"/><text x="231.98" y="461.8" font-size="9.4" text-anchor="middle" textLength="15.0" lengthAdjust="spacingAndGlyphs">600</text><line x1="261.32" y1="448" x2="261.32" y2="451.4" stroke="#111" stroke-width="1.5"/><line x1="290.66" y1="448" x2="290.66" y2="453.2" stroke="#111" stroke-width="1.5"/><text x="290.66" y="461.8" font-size="9.4" text-anchor="middle" textLength="15.0" lengthAdjust="spacingAndGlyphs">700</text><line x1="320" y1="448" x2="320" y2="451.4" stroke="#111" stroke-width="1.5"/>
<text x="47.1" y="257.8" font-size="11" textLength="168.4" lengthAdjust="spacingAndGlyphs">Max at 448 nm at an exc 320 nm</text><text transform="translate(37.96,285.98) scale(0.81,1)" font-size="28.11" class="big">(</text><text transform="translate(61.18,285.98) scale(0.81,1)" font-size="28.11" class="big">)</text><text transform="translate(47.32,287.2) scale(0.84,1)" font-size="26.77" class="big">c</text><text x="283.75" y="260.7" font-size="10.5" textLength="28" lengthAdjust="spacingAndGlyphs">LC3C</text><text x="127.2" y="476.6" font-size="11" textLength="89.8" lengthAdjust="spacingAndGlyphs">Wavelength (nm)</text><text transform="translate(18.5,316.2) rotate(-90)" x="0" y="0" font-size="10.8" text-anchor="middle" textLength="75.2" lengthAdjust="spacingAndGlyphs">Intensity (a.u.)</text>
<g fill="none" stroke-width="1.5" stroke-linejoin="round" stroke-linecap="round"><path d="M383.5,438.1 C383.8,436.03 384.62,430.58 385.3,425.7 C385.98,420.82 386.83,409.17 387.6,408.8 C388.37,408.43 389.15,419.55 389.9,423.5 C390.65,427.45 391.28,431.18 392.1,432.5 C392.92,433.82 393.6,432.35 394.8,431.4 C396,430.45 397.42,428.87 399.3,426.8 C401.18,424.73 403.83,421.82 406.1,419 C408.37,416.18 410.65,412.35 412.9,409.9 C415.15,407.45 417.35,405.8 419.6,404.3 C421.85,402.8 424.13,402.15 426.4,400.9 C428.67,399.65 430.95,397.37 433.2,396.8 C435.45,396.23 437.65,396.63 439.9,397.5 C442.15,398.37 444.43,400.68 446.7,402 C448.97,403.32 451.25,403.88 453.5,405.4 C455.75,406.92 457.95,408.83 460.2,411.1 C462.45,413.37 464.73,416.38 467,419 C469.27,421.62 471.17,424.18 473.8,426.8 C476.43,429.42 480.1,432.62 482.8,434.7 C485.5,436.78 487.13,437.92 490,439.3 C492.87,440.68 495.83,441.88 500,443 C504.17,444.12 512.5,445.5 515,446" stroke="#141414" stroke-width="1.9"/><path d="M391.4,438.1 C391.97,435.67 393.85,429.32 394.8,423.5 C395.75,417.68 396.53,408.47 397.1,403.2 C397.67,397.93 397.75,391.9 398.2,391.9 C398.65,391.9 399.05,400.57 399.8,403.2 C400.55,405.83 401.47,410.72 402.7,407.7 C403.93,404.68 405.5,391.5 407.2,385.1 C408.9,378.7 411.27,373.82 412.9,369.3 C414.53,364.78 415.65,360.8 417,358 C418.35,355.2 419.67,353.67 421,352.5 C422.33,351.33 423.72,351.5 425,351 C426.28,350.5 427.37,349.92 428.7,349.5 C430.03,349.08 431.5,347.83 433,348.5 C434.5,349.17 436.17,350.78 437.7,353.5 C439.23,356.22 440.7,361.42 442.2,364.8 C443.7,368.18 444.82,370.42 446.7,373.8 C448.58,377.18 451.25,380.97 453.5,385.1 C455.75,389.23 457.95,394.08 460.2,398.6 C462.45,403.12 464.73,408.05 467,412.2 C469.27,416.35 471.17,420.12 473.8,423.5 C476.43,426.88 479.27,429.75 482.8,432.5 C486.33,435.25 490.47,437.92 495,440 C499.53,442.08 507.5,444.17 510,445" stroke="#d42222"/><path d="M404,416 C404.5,412.67 406.08,402.83 407,396 C407.92,389.17 408.78,381 409.5,375 C410.22,369 410.67,366.67 411.3,360 C411.93,353.33 412.8,343 413.3,335 C413.8,327 413.88,318.53 414.3,312 C414.72,305.47 415.28,300.72 415.8,295.8 C416.32,290.88 416.93,286.13 417.4,282.5 C417.87,278.87 418.27,276.3 418.6,274 C418.93,271.7 419.13,268.7 419.4,268.7 C419.67,268.7 419.93,271.7 420.2,274 C420.47,276.3 420.62,279.88 421,282.5 C421.38,285.12 421.92,287.73 422.5,289.7 C423.08,291.67 423.82,293.53 424.5,294.3 C425.18,295.07 425.82,294.73 426.6,294.3 C427.38,293.87 428.35,292.13 429.2,291.7 C430.05,291.27 430.77,291.02 431.7,291.7 C432.63,292.38 433.77,294.08 434.8,295.8 C435.83,297.52 436.7,298.77 437.9,302 C439.1,305.23 440.78,311.28 442,315.2 C443.22,319.12 444.15,322.08 445.2,325.5 C446.25,328.92 447.28,332.28 448.3,335.7 C449.32,339.12 450.27,342.78 451.3,346 C452.33,349.22 452.88,350.5 454.5,355 C456.12,359.5 458.75,366.5 461,373 C463.25,379.5 465.5,387.33 468,394 C470.5,400.67 473,407.33 476,413 C479,418.67 482.5,423.67 486,428 C489.5,432.33 493,436.17 497,439 C501,441.83 505.33,443.67 510,445 C514.67,446.33 522.5,446.67 525,447" stroke="#1e8282"/><path d="M400.5,420.1 C401.05,418.03 402.87,413.53 403.8,407.7 C404.73,401.87 405.53,393.05 406.1,385.1 C406.67,377.15 406.92,367.2 407.2,360 C407.48,352.8 407.57,347.3 407.8,341.9 C408.03,336.5 408.13,330.33 408.6,327.6 C409.07,324.87 409.98,326.87 410.6,325.5 C411.22,324.13 411.85,321.65 412.3,319.4 C412.75,317.15 412.88,314.73 413.3,312 C413.72,309.27 414.3,306.22 414.8,303 C415.3,299.78 415.7,295.6 416.3,292.7 C416.9,289.8 417.72,287.13 418.4,285.6 C419.08,284.07 419.72,283.77 420.4,283.5 C421.08,283.23 421.72,283.65 422.5,284 C423.28,284.35 424.25,285.33 425.1,285.6 C425.95,285.87 426.75,285.35 427.6,285.6 C428.45,285.85 429.35,286.42 430.2,287.1 C431.05,287.78 431.77,288.42 432.7,289.7 C433.63,290.98 434.77,292.75 435.8,294.8 C436.83,296.85 437.8,298.6 438.9,302 C440,305.4 441.3,311.28 442.4,315.2 C443.5,319.12 444.47,322.08 445.5,325.5 C446.53,328.92 447.58,332.28 448.6,335.7 C449.62,339.12 450.58,342.78 451.6,346 C452.62,349.22 453,349.93 454.7,355 C456.4,360.07 459.4,369.2 461.8,376.4 C464.2,383.6 466.67,391.73 469.1,398.2 C471.53,404.67 473.57,409.95 476.4,415.2 C479.23,420.45 482.87,425.67 486.1,429.7 C489.33,433.73 492.15,436.93 495.8,439.4 C499.45,441.87 503.13,443.23 508,444.5 C512.87,445.77 522.17,446.58 525,447" stroke="#2222b4"/><path d="M416.2,399.8 C416.77,397.35 418.28,390.55 419.6,385.1 C420.92,379.65 422.93,371.62 424.1,367.1 C425.27,362.58 425.9,362.2 426.6,358 C427.3,353.8 427.75,346.22 428.3,341.9 C428.85,337.58 429.33,332.27 429.9,332.1 C430.47,331.93 431.05,339.1 431.7,340.9 C432.35,342.7 432.77,343.25 433.8,342.9 C434.83,342.55 436.53,339.65 437.9,338.8 C439.27,337.95 440.63,337.28 442,337.8 C443.37,338.32 444.68,339.87 446.1,341.9 C447.52,343.93 448.68,346.28 450.5,350 C452.32,353.72 454.72,358.6 457,364.2 C459.28,369.8 461.78,377.53 464.2,383.6 C466.62,389.67 469.07,395.33 471.5,400.6 C473.93,405.87 475.97,410.35 478.8,415.2 C481.63,420.05 485.27,425.67 488.5,429.7 C491.73,433.73 494.57,436.9 498.2,439.4 C501.83,441.9 506.27,443.48 510.3,444.7 C514.33,445.92 520.38,446.37 522.4,446.7" stroke="#e024e0"/><path d="M425.3,420.1 C426.05,418.03 428.3,411.65 429.8,407.7 C431.3,403.75 432.98,401.3 434.3,396.4 C435.62,391.5 436.77,383.93 437.7,378.3 C438.63,372.67 439.33,365.42 439.9,362.6 C440.47,359.78 440.35,360.65 441.1,361.4 C441.85,362.15 443.28,365.4 444.4,367.1 C445.52,368.8 446.67,370.48 447.8,371.6 C448.93,372.72 449.88,372.3 451.2,373.8 C452.52,375.3 453.82,377.22 455.7,380.6 C457.58,383.98 460.23,389.58 462.5,394.1 C464.77,398.62 466.67,402.8 469.3,407.7 C471.93,412.6 474.85,418.95 478.3,423.5 C481.75,428.05 485.88,431.92 490,435 C494.12,438.08 498.33,440.17 503,442 C507.67,443.83 515.5,445.33 518,446" stroke="#9c9c22"/><path d="M433.2,429.1 C434.32,427.78 437.65,424.77 439.9,421.2 C442.15,417.63 445,411.83 446.7,407.7 C448.4,403.57 449.27,399.12 450.1,396.4 C450.93,393.68 451.07,391.03 451.7,391.4 C452.33,391.77 453.05,396.63 453.9,398.6 C454.75,400.57 455.37,401.68 456.8,403.2 C458.23,404.72 460.42,405.83 462.5,407.7 C464.58,409.57 467.05,412.15 469.3,414.4 C471.55,416.65 473.38,418.57 476,421.2 C478.62,423.83 481.83,427.4 485,430.2 C488.17,433 491.17,435.78 495,438 C498.83,440.22 503.5,442.08 508,443.5 C512.5,444.92 519.67,446 522,446.5" stroke="#1a1a62"/><path d="M445.6,431.4 C446.92,430.45 451.07,427.77 453.5,425.7 C455.93,423.63 457.95,422 460.2,419 C462.45,416 465.12,408.83 467,407.7 C468.88,406.57 469.62,409.95 471.5,412.2 C473.38,414.45 475.55,418.07 478.3,421.2 C481.05,424.33 484.38,428.03 488,431 C491.62,433.97 495.83,436.83 500,439 C504.17,441.17 508.33,442.75 513,444 C517.67,445.25 525.5,446.08 528,446.5" stroke="#741a1a"/><path d="M450.1,431.4 C451.42,430.63 455.18,428.12 458,426.8 C460.82,425.48 464,423.68 467,423.5 C470,423.32 473,424.2 476,425.7 C479,427.2 481.5,430.28 485,432.5 C488.5,434.72 492.83,437.08 497,439 C501.17,440.92 505.33,442.75 510,444 C514.67,445.25 522.5,446.08 525,446.5" stroke="#e22484"/><path d="M459.1,433.6 C460.42,433.42 464.18,432.68 467,432.5 C469.82,432.32 473,432.13 476,432.5 C479,432.87 481.5,433.45 485,434.7 C488.5,435.95 492.83,438.37 497,440 C501.17,441.63 505.33,443.42 510,444.5 C514.67,445.58 519.17,446.03 525,446.5 C530.83,446.97 541.67,447.17 545,447.3" stroke="#228a44"/><path d="M467,437 C468.5,437.38 473,438.55 476,439.3 C479,440.05 481.5,440.8 485,441.5 C488.5,442.2 492.83,442.83 497,443.5 C501.17,444.17 505.33,444.92 510,445.5 C514.67,446.08 520,446.67 525,447 C530,447.33 537.5,447.42 540,447.5" stroke="#2a2aa8"/><path d="M476,441.5 C477.5,441.88 481.83,443.22 485,443.8 C488.17,444.38 490.83,444.63 495,445 C499.17,445.37 505,445.67 510,446 C515,446.33 519.17,446.75 525,447 C530.83,447.25 541.67,447.42 545,447.5" stroke="#f2a444"/><path d="M553,447.6 C553.5,447.42 555.03,447.07 556,446.5 C556.97,445.93 557.88,444.2 558.8,444.2 C559.72,444.2 560.63,445.93 561.5,446.5 C562.37,447.07 563.58,447.42 564,447.6" stroke="#2a2aa8"/><path d="M567,447.6 C567.5,447.33 569.17,446.52 570,446 C570.83,445.48 571.33,444.5 572,444.5 C572.67,444.5 573.17,445.48 574,446 C574.83,446.52 576.5,447.33 577,447.6" stroke="#f2a444"/><path d="M618,447.7 C618.67,447.52 620.67,446.83 622,446.6 C623.33,446.37 624.5,446.12 626,446.3 C627.5,446.48 630.17,447.47 631,447.7" stroke="#228a44"/></g>
<rect x="597.4" y="275.4" width="53.1" height="168.1" fill="#fff" stroke="#8a8a8a" stroke-width="1"/><line x1="601" y1="283.5" x2="627.2" y2="283.5" stroke="#1e1e1e" stroke-width="1.8"/><text x="629.9" y="287.4" font-size="10.5" textLength="17.3" lengthAdjust="spacingAndGlyphs">280</text><line x1="601" y1="297.5" x2="627.2" y2="297.5" stroke="#c03434" stroke-width="1.8"/><text x="629.9" y="301.4" font-size="10.5" textLength="17.3" lengthAdjust="spacingAndGlyphs">300</text><line x1="601" y1="311.5" x2="627.2" y2="311.5" stroke="#2c2ca6" stroke-width="1.8"/><text x="629.9" y="315.4" font-size="10.5" textLength="17.3" lengthAdjust="spacingAndGlyphs">320</text><line x1="601" y1="325.5" x2="627.2" y2="325.5" stroke="#267474" stroke-width="1.8"/><text x="629.9" y="329.4" font-size="10.5" textLength="17.3" lengthAdjust="spacingAndGlyphs">340</text><line x1="601" y1="339.5" x2="627.2" y2="339.5" stroke="#cc38cc" stroke-width="1.8"/><text x="629.9" y="343.4" font-size="10.5" textLength="17.3" lengthAdjust="spacingAndGlyphs">360</text><line x1="601" y1="353.5" x2="627.2" y2="353.5" stroke="#8e8e38" stroke-width="1.8"/><text x="629.9" y="357.4" font-size="10.5" textLength="17.3" lengthAdjust="spacingAndGlyphs">380</text><line x1="601" y1="367.5" x2="627.2" y2="367.5" stroke="#262662" stroke-width="1.8"/><text x="629.9" y="371.4" font-size="10.5" textLength="17.3" lengthAdjust="spacingAndGlyphs">400</text><line x1="601" y1="381.5" x2="627.2" y2="381.5" stroke="#5a2626" stroke-width="1.8"/><text x="629.9" y="385.4" font-size="10.5" textLength="17.3" lengthAdjust="spacingAndGlyphs">420</text><line x1="601" y1="395.5" x2="627.2" y2="395.5" stroke="#d4448a" stroke-width="1.8"/><text x="629.9" y="399.4" font-size="10.5" textLength="17.3" lengthAdjust="spacingAndGlyphs">440</text><line x1="601" y1="409.5" x2="627.2" y2="409.5" stroke="#488c58" stroke-width="1.8"/><text x="629.9" y="413.4" font-size="10.5" textLength="17.3" lengthAdjust="spacingAndGlyphs">460</text><line x1="601" y1="423.5" x2="627.2" y2="423.5" stroke="#34349a" stroke-width="1.8"/><text x="629.9" y="427.4" font-size="10.5" textLength="17.3" lengthAdjust="spacingAndGlyphs">480</text><line x1="601" y1="437.5" x2="627.2" y2="437.5" stroke="#e8b474" stroke-width="1.8"/><text x="629.9" y="441.4" font-size="10.5" textLength="17.3" lengthAdjust="spacingAndGlyphs">500</text>
<line x1="361.8" y1="242.8" x2="361.8" y2="449" stroke="#111" stroke-width="1.7"/><line x1="361" y1="243.6" x2="655.9" y2="243.6" stroke="#111" stroke-width="1.6"/><line x1="655" y1="242.8" x2="655" y2="449" stroke="#111" stroke-width="1.8"/><line x1="361" y1="448" x2="655.9" y2="448" stroke="#111" stroke-width="2"/><line x1="361.8" y1="448" x2="361.8" y2="451.4" stroke="#111" stroke-width="1.5"/><line x1="382.74" y1="448" x2="382.74" y2="453.2" stroke="#111" stroke-width="1.5"/><text x="382.74" y="461.8" font-size="9.4" text-anchor="middle" textLength="15.0" lengthAdjust="spacingAndGlyphs">300</text><line x1="403.69" y1="448" x2="403.69" y2="451.4" stroke="#111" stroke-width="1.5"/><line x1="424.63" y1="448" x2="424.63" y2="453.2" stroke="#111" stroke-width="1.5"/><text x="424.63" y="461.8" font-size="9.4" text-anchor="middle" textLength="15.0" lengthAdjust="spacingAndGlyphs">400</text><line x1="445.57" y1="448" x2="445.57" y2="451.4" stroke="#111" stroke-width="1.5"/><line x1="466.51" y1="448" x2="466.51" y2="453.2" stroke="#111" stroke-width="1.5"/><text x="466.51" y="461.8" font-size="9.4" text-anchor="middle" textLength="15.0" lengthAdjust="spacingAndGlyphs">500</text><line x1="487.46" y1="448" x2="487.46" y2="451.4" stroke="#111" stroke-width="1.5"/><line x1="508.4" y1="448" x2="508.4" y2="453.2" stroke="#111" stroke-width="1.5"/><text x="508.4" y="461.8" font-size="9.4" text-anchor="middle" textLength="15.0" lengthAdjust="spacingAndGlyphs">600</text><line x1="529.34" y1="448" x2="529.34" y2="451.4" stroke="#111" stroke-width="1.5"/><line x1="550.29" y1="448" x2="550.29" y2="453.2" stroke="#111" stroke-width="1.5"/><text x="550.29" y="461.8" font-size="9.4" text-anchor="middle" textLength="15.0" lengthAdjust="spacingAndGlyphs">700</text><line x1="571.23" y1="448" x2="571.23" y2="451.4" stroke="#111" stroke-width="1.5"/><line x1="592.17" y1="448" x2="592.17" y2="453.2" stroke="#111" stroke-width="1.5"/><text x="592.17" y="461.8" font-size="9.4" text-anchor="middle" textLength="15.0" lengthAdjust="spacingAndGlyphs">800</text><line x1="613.11" y1="448" x2="613.11" y2="451.4" stroke="#111" stroke-width="1.5"/><line x1="634.06" y1="448" x2="634.06" y2="453.2" stroke="#111" stroke-width="1.5"/><text x="634.06" y="461.8" font-size="9.4" text-anchor="middle" textLength="15.0" lengthAdjust="spacingAndGlyphs">900</text><line x1="655" y1="448" x2="655" y2="451.4" stroke="#111" stroke-width="1.5"/>
<text x="378.9" y="258.6" font-size="11" textLength="168.2" lengthAdjust="spacingAndGlyphs">Max at 387 nm at an exc 340 nm</text><text transform="translate(367.36,282.98) scale(0.81,1)" font-size="28.11" class="big">(</text><text transform="translate(395.18,282.98) scale(0.81,1)" font-size="28.11" class="big">)</text><text transform="translate(377.15,283.7) scale(0.91,1)" font-size="28.14" class="big">d</text><text x="613.8" y="263.5" font-size="10.5" textLength="32.1" lengthAdjust="spacingAndGlyphs">LS200</text><text x="496.4" y="482.2" font-size="11" textLength="89.8" lengthAdjust="spacingAndGlyphs">Wavelength (nm)</text><text transform="translate(346.5,343.3) rotate(-90)" x="0" y="0" font-size="10.8" text-anchor="middle" textLength="76" lengthAdjust="spacingAndGlyphs">Intensity (a.u.)</text>
</svg>
</body></html>
